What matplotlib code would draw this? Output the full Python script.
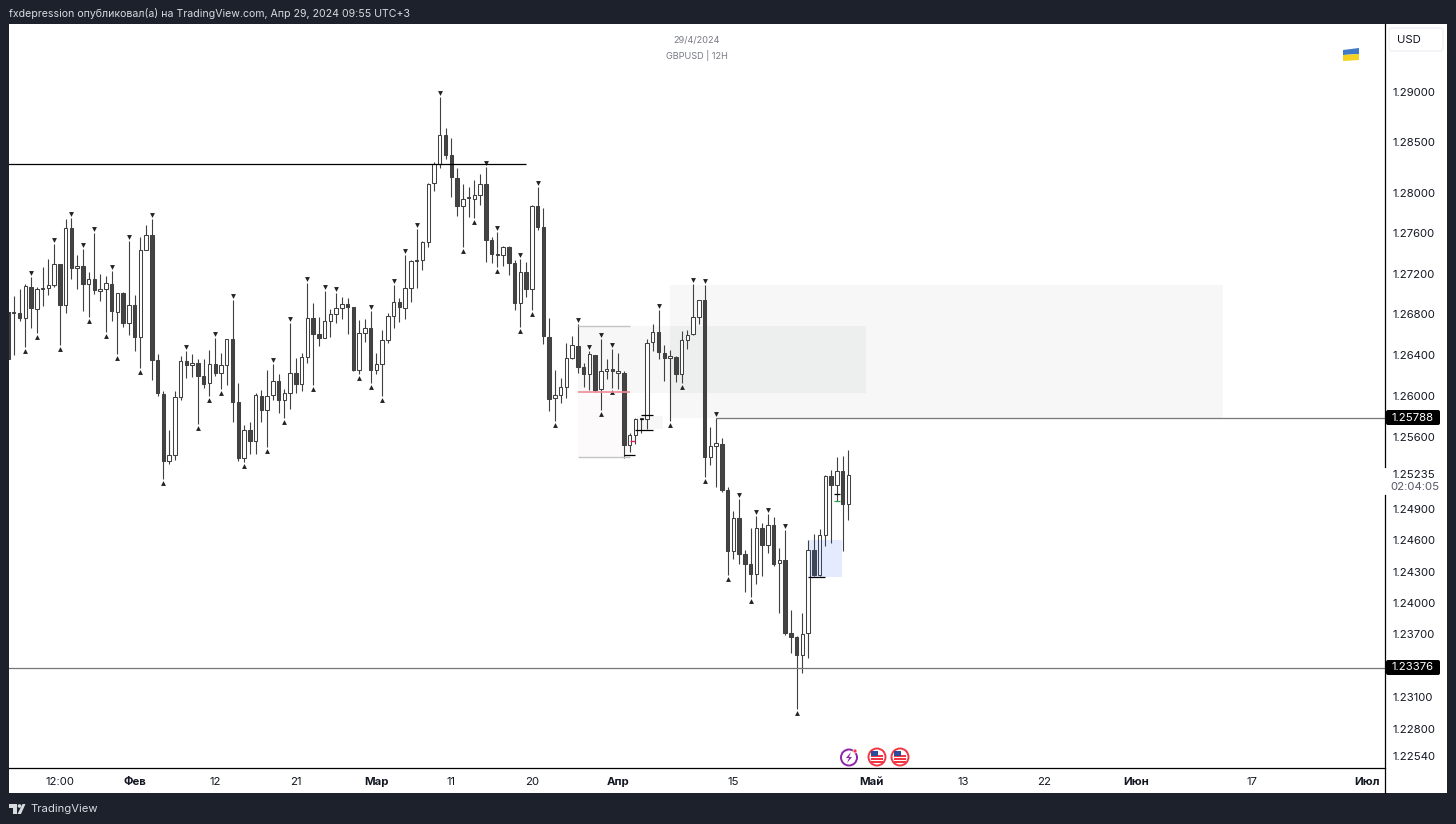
import matplotlib
matplotlib.use("Agg")
import matplotlib.pyplot as plt
from matplotlib.patches import Rectangle, Circle, FancyBboxPatch, Polygon
from matplotlib.ticker import FixedLocator, NullLocator, NullFormatter
from matplotlib.transforms import offset_copy

plt.rcParams['font.family'] = ['Inter', 'DejaVu Sans']

# GBPUSD 12H candles
opens = [
    1.2682, 1.2681, 1.2681, 1.2676, 1.2707, 1.2685, 1.2705, 1.2706, 1.2709, 1.2729,
    1.2689, 1.2765, 1.2725, 1.2727, 1.2710, 1.2715, 1.2703, 1.2705, 1.2710, 1.2682,
    1.2701, 1.2671, 1.2689, 1.2658, 1.2743, 1.2758, 1.2635, 1.2602, 1.2537, 1.2543,
    1.2599, 1.2634, 1.2630, 1.2632, 1.2620, 1.2613, 1.2631, 1.2623, 1.2630, 1.2656,
    1.2594, 1.2540, 1.2567, 1.2556, 1.2600, 1.2586, 1.2601, 1.2615, 1.2596, 1.2603,
    1.2623, 1.2612, 1.2638, 1.2676, 1.2661, 1.2657, 1.2673, 1.2680, 1.2686, 1.2690,
    1.2687, 1.2625, 1.2662, 1.2667, 1.2625, 1.2631, 1.2655, 1.2678, 1.2692, 1.2686,
    1.2706, 1.2732, 1.2733, 1.2751, 1.2809, 1.2828, 1.2857, 1.2837, 1.2814, 1.2787,
    1.2795, 1.2794, 1.2798, 1.2808, 1.2753, 1.2739, 1.2738, 1.2746, 1.2730, 1.2691,
    1.2722, 1.2705, 1.2787, 1.2766, 1.2658, 1.2598, 1.2601, 1.2609, 1.2637, 1.2649,
    1.2628, 1.2622, 1.2640, 1.2607, 1.2624, 1.2626, 1.2623, 1.2623, 1.2552, 1.2562,
    1.2578, 1.2578, 1.2653, 1.2663, 1.2642, 1.2637, 1.2638, 1.2622, 1.2655, 1.2661,
    1.2677, 1.2694, 1.2541, 1.2551, 1.2553, 1.2509, 1.2450, 1.2482, 1.2447, 1.2437,
    1.2428, 1.2472, 1.2456, 1.2475, 1.2438, 1.2441, 1.2371, 1.2367, 1.2350, 1.2371,
    1.2451, 1.2427, 1.2465, 1.2522, 1.2514, 1.2527, 1.2495,
]
highs = [
    1.2682, 1.2698, 1.2705, 1.2710, 1.2717, 1.2707, 1.2726, 1.2734, 1.2749, 1.2729,
    1.2774, 1.2775, 1.2738, 1.2744, 1.2722, 1.2760, 1.2720, 1.2718, 1.2723, 1.2701,
    1.2702, 1.2752, 1.2699, 1.2756, 1.2768, 1.2774, 1.2641, 1.2605, 1.2567, 1.2605,
    1.2639, 1.2644, 1.2641, 1.2636, 1.2636, 1.2645, 1.2657, 1.2642, 1.2656, 1.2694,
    1.2613, 1.2572, 1.2575, 1.2603, 1.2606, 1.2625, 1.2631, 1.2622, 1.2607, 1.2671,
    1.2637, 1.2642, 1.2711, 1.2691, 1.2677, 1.2703, 1.2685, 1.2701, 1.2697, 1.2696,
    1.2687, 1.2674, 1.2675, 1.2683, 1.2642, 1.2665, 1.2681, 1.2709, 1.2696, 1.2738,
    1.2733, 1.2764, 1.2752, 1.2809, 1.2830, 1.2895, 1.2864, 1.2854, 1.2824, 1.2808,
    1.2805, 1.2812, 1.2818, 1.2825, 1.2756, 1.2761, 1.2747, 1.2747, 1.2733, 1.2734,
    1.2731, 1.2788, 1.2805, 1.2785, 1.2676, 1.2625, 1.2618, 1.2652, 1.2659, 1.2670,
    1.2632, 1.2644, 1.2640, 1.2656, 1.2636, 1.2646, 1.2642, 1.2624, 1.2564, 1.2579,
    1.2579, 1.2656, 1.2670, 1.2684, 1.2650, 1.2645, 1.2639, 1.2664, 1.2665, 1.2710,
    1.2694, 1.2709, 1.2570, 1.2579, 1.2559, 1.2512, 1.2488, 1.2500, 1.2451, 1.2472,
    1.2484, 1.2477, 1.2486, 1.2483, 1.2453, 1.2470, 1.2393, 1.2368, 1.2390, 1.2460,
    1.2466, 1.2471, 1.2523, 1.2528, 1.2541, 1.2542, 1.2548,
]
lows = [
    1.2636, 1.2640, 1.2673, 1.2648, 1.2667, 1.2662, 1.2688, 1.2699, 1.2707, 1.2650,
    1.2681, 1.2715, 1.2705, 1.2683, 1.2677, 1.2700, 1.2693, 1.2663, 1.2673, 1.2641,
    1.2668, 1.2660, 1.2644, 1.2627, 1.2743, 1.2616, 1.2600, 1.2519, 1.2534, 1.2538,
    1.2596, 1.2618, 1.2619, 1.2573, 1.2608, 1.2600, 1.2620, 1.2607, 1.2611, 1.2575,
    1.2537, 1.2536, 1.2544, 1.2544, 1.2575, 1.2550, 1.2596, 1.2584, 1.2579, 1.2587,
    1.2603, 1.2605, 1.2632, 1.2611, 1.2649, 1.2657, 1.2658, 1.2671, 1.2675, 1.2661,
    1.2624, 1.2622, 1.2653, 1.2613, 1.2622, 1.2600, 1.2652, 1.2667, 1.2672, 1.2675,
    1.2692, 1.2706, 1.2724, 1.2746, 1.2802, 1.2824, 1.2833, 1.2796, 1.2777, 1.2746,
    1.2776, 1.2775, 1.2788, 1.2731, 1.2730, 1.2726, 1.2727, 1.2719, 1.2684, 1.2668,
    1.2697, 1.2684, 1.2763, 1.2651, 1.2585, 1.2576, 1.2593, 1.2598, 1.2636, 1.2623,
    1.2609, 1.2606, 1.2604, 1.2586, 1.2617, 1.2608, 1.2607, 1.2540, 1.2546, 1.2553,
    1.2564, 1.2568, 1.2644, 1.2636, 1.2615, 1.2576, 1.2614, 1.2613, 1.2646, 1.2660,
    1.2670, 1.2521, 1.2533, 1.2512, 1.2507, 1.2427, 1.2442, 1.2437, 1.2410, 1.2406,
    1.2418, 1.2426, 1.2448, 1.2435, 1.2390, 1.2369, 1.2352, 1.2299, 1.2333, 1.2347,
    1.2426, 1.2426, 1.2455, 1.2458, 1.2498, 1.2450, 1.2480,
]
closes = [
    1.2636, 1.2682, 1.2676, 1.2708, 1.2686, 1.2705, 1.2706, 1.2709, 1.2729, 1.2689,
    1.2765, 1.2725, 1.2727, 1.2710, 1.2715, 1.2704, 1.2705, 1.2711, 1.2683, 1.2701,
    1.2671, 1.2689, 1.2658, 1.2743, 1.2758, 1.2635, 1.2603, 1.2537, 1.2543, 1.2599,
    1.2634, 1.2630, 1.2632, 1.2620, 1.2612, 1.2631, 1.2623, 1.2630, 1.2656, 1.2594,
    1.2540, 1.2567, 1.2556, 1.2601, 1.2586, 1.2600, 1.2615, 1.2596, 1.2603, 1.2623,
    1.2612, 1.2638, 1.2676, 1.2661, 1.2657, 1.2673, 1.2680, 1.2686, 1.2690, 1.2687,
    1.2625, 1.2662, 1.2667, 1.2625, 1.2631, 1.2655, 1.2678, 1.2692, 1.2687, 1.2706,
    1.2732, 1.2733, 1.2751, 1.2808, 1.2828, 1.2857, 1.2837, 1.2815, 1.2787, 1.2794,
    1.2796, 1.2798, 1.2808, 1.2753, 1.2739, 1.2738, 1.2746, 1.2730, 1.2691, 1.2722,
    1.2705, 1.2787, 1.2766, 1.2659, 1.2597, 1.2601, 1.2609, 1.2637, 1.2650, 1.2628,
    1.2622, 1.2641, 1.2606, 1.2624, 1.2626, 1.2624, 1.2624, 1.2552, 1.2562, 1.2578,
    1.2579, 1.2652, 1.2663, 1.2643, 1.2637, 1.2639, 1.2622, 1.2655, 1.2660, 1.2677,
    1.2694, 1.2541, 1.2551, 1.2554, 1.2509, 1.2450, 1.2482, 1.2447, 1.2437, 1.2428,
    1.2472, 1.2456, 1.2475, 1.2437, 1.2441, 1.2371, 1.2367, 1.2350, 1.2370, 1.2451,
    1.2427, 1.2465, 1.2522, 1.2514, 1.2527, 1.2495, 1.25235,
]

# fractal markers, by candle number
fractal_tops = [4, 8, 11, 13, 15, 18, 21, 25, 31, 36, 39, 46, 49, 52, 55, 57, 63, 67, 69,
                71, 75, 83, 85, 89, 92, 99, 101, 103, 105, 113, 119, 121, 123, 127, 130,
                132, 135]
fractal_bottoms = [3, 5, 9, 14, 17, 19, 23, 27, 33, 35, 37, 41, 45, 48, 53, 61, 63, 65, 79,
                   81, 85, 89, 91, 95, 103, 105, 115, 117, 121, 125, 129, 137]

price_ticks = [1.29, 1.285, 1.28, 1.276, 1.272, 1.268, 1.264, 1.26, 1.256, 1.249, 1.246,
               1.243, 1.24, 1.237, 1.231, 1.228, 1.2254]
price_labels = ['1.29000', '1.28500', '1.28000', '1.27600', '1.27200', '1.26800', '1.26400',
                '1.26000', '1.25600', '1.24900', '1.24600', '1.24300', '1.24000', '1.23700',
                '1.23100', '1.22800', '1.22540']
time_ticks = [9, 22, 36, 50, 64, 77, 91, 106, 126, 150, 166, 180, 196, 216, 236]
time_labels = ['12:00', 'Фев', '12', '21', 'Мар', '11', '20', 'Апр', '15', 'Май', '13',
               '22', 'Июн', '17', 'Июл']
month_labels = ['Фев', 'Мар', 'Апр', 'Май', 'Июн', 'Июл']

resistance = 1.28284
level_upper = 1.25788
level_lower = 1.23376
last_price = 1.25235

BG = '#1c212c'
DARK = '#444444'
LINE = '#404040'
W, H = 1456, 824


def box(left, top, right, bottom):
    return [left / W, 1 - bottom / H, (right - left) / W, (bottom - top) / H]


fig = plt.figure(figsize=(W / 100, H / 100), dpi=100, facecolor=BG)

# white panel and chrome drawn in pixel coordinates
back = fig.add_axes([0, 0, 1, 1], zorder=0)
back.set_xlim(0, W)
back.set_ylim(H, 0)
back.axis('off')
back.add_patch(Rectangle((9, 24), 1438, 769, fc='white', ec='none'))

ax = fig.add_axes(box(9, 24, 1385, 768), zorder=1)
ax.patch.set_alpha(0)
ax.set_yscale('log')

# zones
zone_grey = dict(fc='#5d7068', alpha=0.055, ec='none', zorder=1)
ax.add_patch(Rectangle((115, 1.25788), 96, 1.27088 - 1.25788, **zone_grey))
ax.add_patch(Rectangle((99, 1.26031), 50, 1.26686 - 1.26031, **zone_grey))
ax.add_patch(Rectangle((109.3, 1.2568), 4.5, 0.0013, **zone_grey))
ax.add_patch(Rectangle((99, 1.2541), 9, 1.2604 - 1.2541, fc='#fdfafb', ec='none', zorder=1))
ax.add_patch(Rectangle((139.2, 1.2425), 5.7, 0.0035, fc='#2962ff', alpha=0.12, ec='none', zorder=4))

# candles
idx = list(range(len(opens)))
ax.vlines(idx, lows, highs, color=LINE, lw=0.8, zorder=2)
tops = [max(o, c) for o, c in zip(opens, closes)]
bots = [min(o, c) for o, c in zip(opens, closes)]
colors = [DARK if c < o else 'white' for o, c in zip(opens, closes)]
ax.bar(idx, [t - b for t, b in zip(tops, bots)], bottom=bots, width=0.6, color=colors,
       edgecolor=LINE, linewidth=0.75, zorder=3)

# fractal triangles sit a few pixels beyond the wick
up_shift = offset_copy(ax.transData, fig=fig, y=4, units='dots')
down_shift = offset_copy(ax.transData, fig=fig, y=-4, units='dots')
ax.plot(fractal_tops, [highs[i] for i in fractal_tops], 'v', color='#222222', ms=3.5, mew=0,
        transform=up_shift, zorder=4)
ax.plot(fractal_bottoms, [lows[i] for i in fractal_bottoms], '^', color='#222222', ms=3.5, mew=0,
        transform=down_shift, zorder=4)

# levels
ax.hlines(resistance, 0, 90, color='black', lw=0.9, zorder=4)
ax.hlines(level_upper, 123, 240, color='#777777', lw=0.9, zorder=4)
ax.hlines(level_lower, 0, 240, color='#777777', lw=0.9, zorder=4)
ax.hlines(1.26686, 99, 108, color='#c4c4c4', lw=1, zorder=2)
ax.hlines(1.2541, 99, 108, color='#c4c4c4', lw=1, zorder=2)
ax.hlines(1.2604, 99, 108, color='#f08a98', lw=1.2, zorder=4)
ax.hlines(1.2556, 108, 109, color='#e91e63', lw=1, zorder=5)
for y0, x0, x1 in [(1.2543, 107, 109), (1.2582, 110, 112), (1.2578, 109.7, 110.3),
                   (1.2567, 109, 112), (1.2425, 139, 142), (1.2505, 143.5, 144.5)]:
    ax.hlines(y0, x0, x1, color='black', lw=0.9, zorder=5)
ax.hlines(1.2498, 143.5, 144.5, color='#2e9e4f', lw=0.9, zorder=5)

# axes
ax.set_xlim(0.174, 239.2)
ax.set_ylim(1.22426, 1.2968)
for name, spine in ax.spines.items():
    spine.set_visible(name == 'bottom')
ax.spines['bottom'].set_color('black')
ax.spines['bottom'].set_linewidth(0.9)
ax.yaxis.tick_right()
ax.yaxis.set_major_locator(FixedLocator(price_ticks))
ax.yaxis.set_minor_locator(NullLocator())
ax.yaxis.set_minor_formatter(NullFormatter())
ax.set_yticklabels(price_labels)
ax.tick_params(axis='y', length=0, pad=5.6, labelsize=8.2, labelcolor='#131722')
ax.set_xticks(time_ticks)
ax.set_xticklabels(time_labels)
ax.tick_params(axis='x', length=0, pad=6.5, labelsize=8.2, labelcolor='#131722')
for label in ax.get_xticklabels():
    if label.get_text() in month_labels:
        label.set_fontweight('bold')

# everything else on top, again in pixels
top = fig.add_axes([0, 0, 1, 1], zorder=2)
top.set_xlim(0, W)
top.set_ylim(H, 0)
top.axis('off')
top.patch.set_alpha(0)

top.plot([1385, 1385], [24, 467], color='black', lw=0.9, zorder=4)
top.plot([1385, 1385], [495, 793], color='black', lw=0.9, zorder=4)

top.text(9, 13.5, 'fxdepression опубликовал(а) на TradingView.com, Апр 29, 2024 09:55 UTC+3',
         color='#d8dae0', fontsize=7.6, va='center', ha='left')
top.text(697, 40.5, '29/4/2024', color='#787b86', fontsize=6.6, va='center', ha='center')
top.text(697, 55, 'GBPUSD | 12H', color='#787b86', fontsize=6.6, va='center', ha='center')
top.text(30, 809, 'TradingView', color='#d8dae0', fontsize=8.1, va='center', ha='left')

# USD box
top.add_patch(FancyBboxPatch((1389, 28), 54, 23, boxstyle='round,pad=0,rounding_size=3',
                             fc='white', ec='#eef0f4', lw=1))
top.text(1397, 39.5, 'USD', color='#131722', fontsize=8.2, va='center', ha='left')

# price labels on the axis
for price_text, yc in [('1.25788', 417.5), ('1.23376', 667.5)]:
    top.add_patch(FancyBboxPatch((1386, yc - 7.5), 54, 15, boxstyle='round,pad=0,rounding_size=2',
                                 fc='black', ec='none', zorder=5))
    top.text(1413, yc, price_text, color='white', fontsize=8.2, va='center', ha='center', zorder=6)
top.text(1414, 475, f'{last_price:.5f}', color='#131722', fontsize=8.2, va='center', ha='center', zorder=6)
top.text(1414.5, 487, '02:04:05', color='#555866', fontsize=8.2, va='center', ha='center', zorder=6)

# Ukraine flag
top.add_patch(Polygon([(1343, 50), (1359, 48), (1359, 54), (1343, 55)], fc='#3f79c8', ec='none'))
top.add_patch(Polygon([(1343, 55), (1359, 54), (1359, 60), (1343, 61)], fc='#f4d21f', ec='none'))

# event icons
top.add_patch(Circle((849, 757.5), 8, fc='white', ec='#8e24aa', lw=1.4))
top.add_patch(Polygon([(851, 752), (846, 758), (849, 758), (847, 763), (852, 757), (849, 757)],
                      fc='#8e24aa', ec='none'))
top.add_patch(Circle((855, 751), 2, fc='#f23645', ec='white', lw=0.5))
for xc in (877, 900):
    top.add_patch(Circle((xc, 757), 8.5, fc='white', ec='#f23645', lw=1.4))
    for k in range(3):
        top.add_patch(Rectangle((xc - 6, 755 + k * 3), 12, 1.5, fc='#f23645', ec='none'))
    top.add_patch(Rectangle((xc - 6, 751), 7, 5, fc='#2b4c9b', ec='none'))

# TradingView logo
top.add_patch(Polygon([(9, 804), (17, 804), (17, 814), (13, 814), (13, 808), (9, 808)],
                      fc='#d8dae0', ec='none'))
top.add_patch(Circle((19.5, 806), 1.8, fc='#d8dae0', ec='none'))
top.add_patch(Polygon([(21, 814), (25.5, 804), (22.5, 804), (17.5, 814)], fc='#d8dae0', ec='none'))

fig.savefig('out.png', dpi=100, facecolor=BG)
